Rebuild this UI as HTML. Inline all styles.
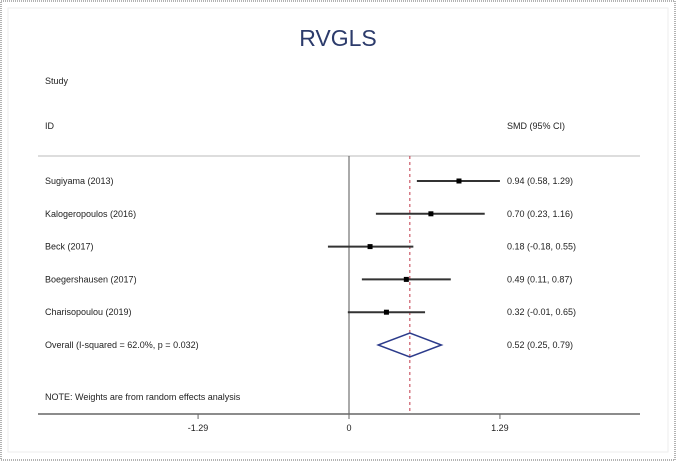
<!DOCTYPE html>
<html><head><meta charset="utf-8"><style>
body{margin:0;background:#fff;}
svg{display:block;font-family:"Liberation Sans",sans-serif;}
</style></head><body>
<svg id="chart" width="676" height="461">
<rect x="1" y="1" width="674" height="459" fill="#fff" stroke="#666" stroke-dasharray="1,1"/>
<rect x="8" y="8" width="660" height="444" fill="none" stroke="#eee"/>
<text x="338" y="46" text-anchor="middle" font-size="23" fill="#2c3b6b">RVGLS</text>
<text x="45" y="84" font-size="9" fill="#222">Study</text>
<text x="45" y="129" font-size="9" fill="#222">ID</text>
<text x="507" y="129" font-size="9" fill="#222">SMD (95% CI)</text>
<line x1="38" y1="156" x2="640" y2="156" stroke="#ddd" stroke-width="2"/>
<g id="marks"></g>
<text x="45" y="400" font-size="9" fill="#222">NOTE: Weights are from random effects analysis</text>
<line x1="38" y1="414" x2="640" y2="414" stroke="#666" stroke-width="1.5"/>
</svg>
<script>
const studies=["Sugiyama (2013)","Kalogeropoulos (2016)","Beck (2017)","Boegershausen (2017)","Charisopoulou (2019)"];
const est=[0.94,0.70,0.18,0.49,0.32];
const lo=[0.58,0.23,-0.18,0.11,-0.01];
const hi=[1.29,1.16,0.55,0.87,0.65];
const overall=[0.52,0.25,0.79];
const ticks=[-1.29,0,1.29];
const tickLabels=["-1.29","0","1.29"];
const X=v=>349+v*117;
const rowY=i=>181+i*32.8;
const NS="http://www.w3.org/2000/svg";
const g=document.getElementById('marks');
function mk(t,a,txt){const e=document.createElementNS(NS,t);for(const k in a)e.setAttribute(k,a[k]);if(txt!==undefined)e.textContent=txt;g.appendChild(e);return e;}
let e=mk('line',{x1:X(0),y1:156,x2:X(0),y2:414,stroke:'#555','stroke-width':1});


e=mk('line',{x1:X(overall[0]),y1:156,x2:X(overall[0]),y2:414,stroke:'#c0394a','stroke-width':1,'stroke-dasharray':'3,3'});


studies.forEach((s,i)=>{
 const y=rowY(i);
 let t=mk('text',{x:45,y:y+3,'font-size':9,fill:'#222'},s);
 
 
 let l=mk('line',{x1:X(lo[i]),y1:y,x2:X(hi[i]),y2:y,stroke:'#333','stroke-width':2});
 
 
 let p=mk('rect',{x:X(est[i])-2.5,y:y-2.5,width:5,height:5,fill:'#000'});
 
 
 let v=mk('text',{x:507,y:y+3,'font-size':9,fill:'#222'},est[i].toFixed(2)+" ("+lo[i].toFixed(2)+", "+hi[i].toFixed(2)+")");
 
 
});
const oy=rowY(5);
e=mk('text',{x:45,y:oy+3,'font-size':9,fill:'#222'},"Overall  (I-squared = 62.0%, p = 0.032)");


e=mk('polygon',{points:`${X(overall[1])},${oy} ${X(overall[0])},${oy-12} ${X(overall[2])},${oy} ${X(overall[0])},${oy+12}`,fill:'none',stroke:'#2c3b8b','stroke-width':1.5});


e=mk('text',{x:507,y:oy+3,'font-size':9,fill:'#222'},overall[0].toFixed(2)+" ("+overall[1].toFixed(2)+", "+overall[2].toFixed(2)+")");


ticks.forEach((t,i)=>{
 let tk=mk('line',{x1:X(t),y1:414,x2:X(t),y2:419,stroke:'#666'});
 
 
 let tl=mk('text',{x:X(t),y:431,'text-anchor':'middle','font-size':9,fill:'#222'},tickLabels[i]);
 
 
});
</script>
</body></html>
